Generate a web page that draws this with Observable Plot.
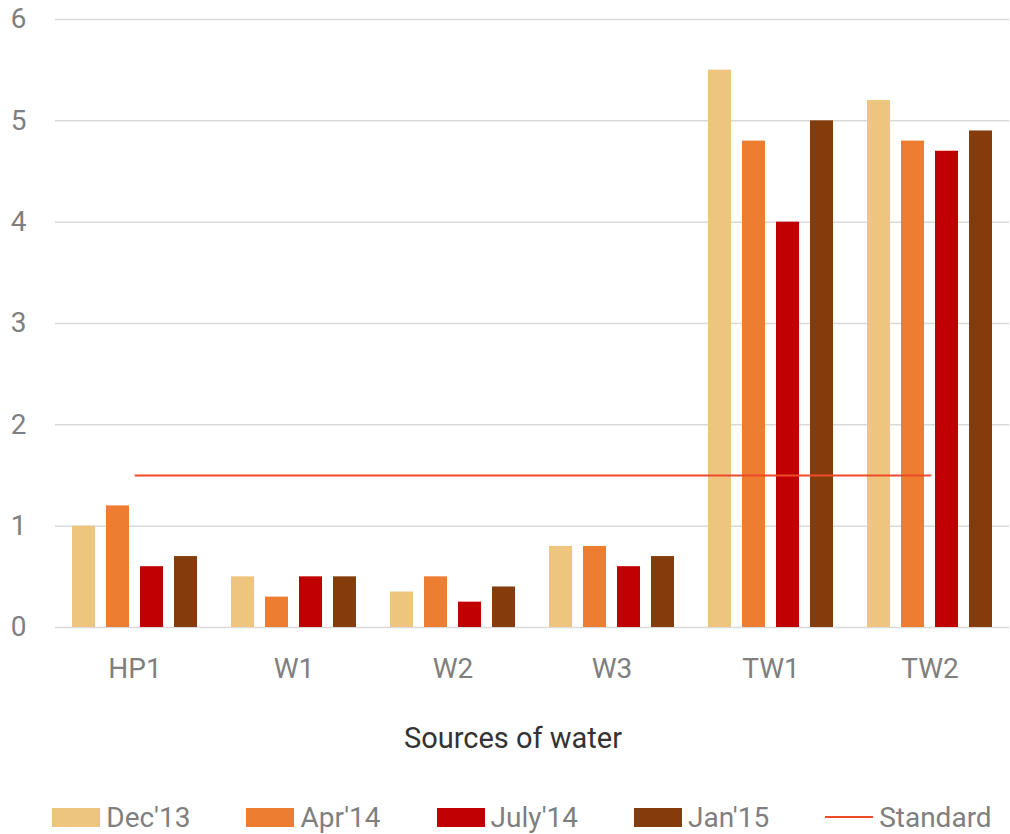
<!DOCTYPE html>
<html>
<head>
<meta charset="utf-8">
<script src="https://cdn.jsdelivr.net/npm/d3@7"></script>
<script src="https://cdn.jsdelivr.net/npm/@observablehq/plot@0.6"></script>
<style>
  html, body { margin: 0; padding: 0; background: #fff; }
  body { width: 1010px; height: 834px; overflow: hidden; font-family: Roboto, "Noto Sans", sans-serif; }
  #wrap { position: relative; width: 1010px; height: 700px; }
  #wrap svg { position: absolute; left: 0; top: 0; }
  #xtitle { text-align: center; font-size: 29px; color: #333; line-height: 36px; margin-top: 20px; padding-left: 16px; }
  #legend { display: flex; justify-content: center; align-items: center; margin-top: 46px; height: 30px; font-size: 28px; color: #7f7f7f; padding-left: 34px; }
  .item { display: flex; align-items: center; margin: 0 28px; }
  .sw { width: 48px; height: 19px; margin-right: 6px; }
  .ln { width: 48px; height: 2.5px; margin-right: 6px; }
</style>
</head>
<body>
<div id="wrap"></div>
<div id="xtitle">Sources of water</div>
<div id="legend"></div>
<script>
const sources = ["HP1", "W1", "W2", "W3", "TW1", "TW2"];
const seriesNames = ["Dec'13", "Apr'14", "July'14", "Jan'15"];
const seriesColors = ["#EDC57E", "#ED7D31", "#C00000", "#843C0C"];
const dec13 = [1.0, 0.5, 0.35, 0.8, 5.5, 5.2];
const apr14 = [1.2, 0.3, 0.5, 0.8, 4.8, 4.8];
const july14 = [0.6, 0.5, 0.25, 0.6, 4.0, 4.7];
const jan15 = [0.7, 0.5, 0.4, 0.7, 5.0, 4.9];
const standard = [1.5, 1.5, 1.5, 1.5, 1.5, 1.5];
const standardColor = "#EE4B2B";
const yTicks = [0, 1, 2, 3, 4, 5, 6];

const seriesValues = [dec13, apr14, july14, jan15];
const rows = [];
sources.forEach((s, i) => {
  seriesNames.forEach((n, j) => rows.push({source: s, series: n, value: seriesValues[j][i]}));
});
const stdRows = sources.map((s, i) => ({source: s, value: standard[i]}));

const W = 1010, H = 700;
const margins = {marginLeft: 54, marginRight: 0, marginTop: 19, marginBottom: 73};

const chart = Plot.plot({
  width: W, height: H, ...margins,
  style: {fontFamily: "Roboto, sans-serif", fontSize: "28px", color: "#7f7f7f", background: "transparent"},
  fx: {domain: sources, padding: 0, label: null, tickSize: 0, tickPadding: 31},
  x: {domain: seriesNames, axis: null, paddingInner: 0.33, paddingOuter: 0.47},
  y: {domain: [0, 6], ticks: yTicks, tickFormat: "d", tickSize: 0, tickPadding: 29, label: null},
  color: {domain: seriesNames, range: seriesColors},
  marks: [
    Plot.ruleY(yTicks, {stroke: "#d9d9d9", strokeWidth: 1.5}),
    Plot.barY(rows, {fx: "source", x: "series", y: "value", fill: "series"})
  ]
});

const overlay = Plot.plot({
  width: W, height: H, ...margins,
  style: {background: "transparent"},
  x: {type: "point", domain: sources, axis: null, padding: 0.5},
  y: {domain: [0, 6], axis: null},
  marks: [
    Plot.lineY(stdRows, {x: "source", y: "value", stroke: standardColor, strokeWidth: 2})
  ]
});

const wrap = document.getElementById("wrap");
wrap.appendChild(chart);
wrap.appendChild(overlay);

const legend = document.getElementById("legend");
seriesNames.forEach((n, i) => {
  const it = document.createElement("div"); it.className = "item";
  const sw = document.createElement("div"); sw.className = "sw"; sw.style.background = seriesColors[i];
  const t = document.createElement("span"); t.textContent = n;
  it.appendChild(sw); it.appendChild(t); legend.appendChild(it);
});
{
  const it = document.createElement("div"); it.className = "item";
  const ln = document.createElement("div"); ln.className = "ln"; ln.style.background = standardColor;
  const t = document.createElement("span"); t.textContent = "Standard";
  it.appendChild(ln); it.appendChild(t); legend.appendChild(it);
}
</script>
</body>
</html>
